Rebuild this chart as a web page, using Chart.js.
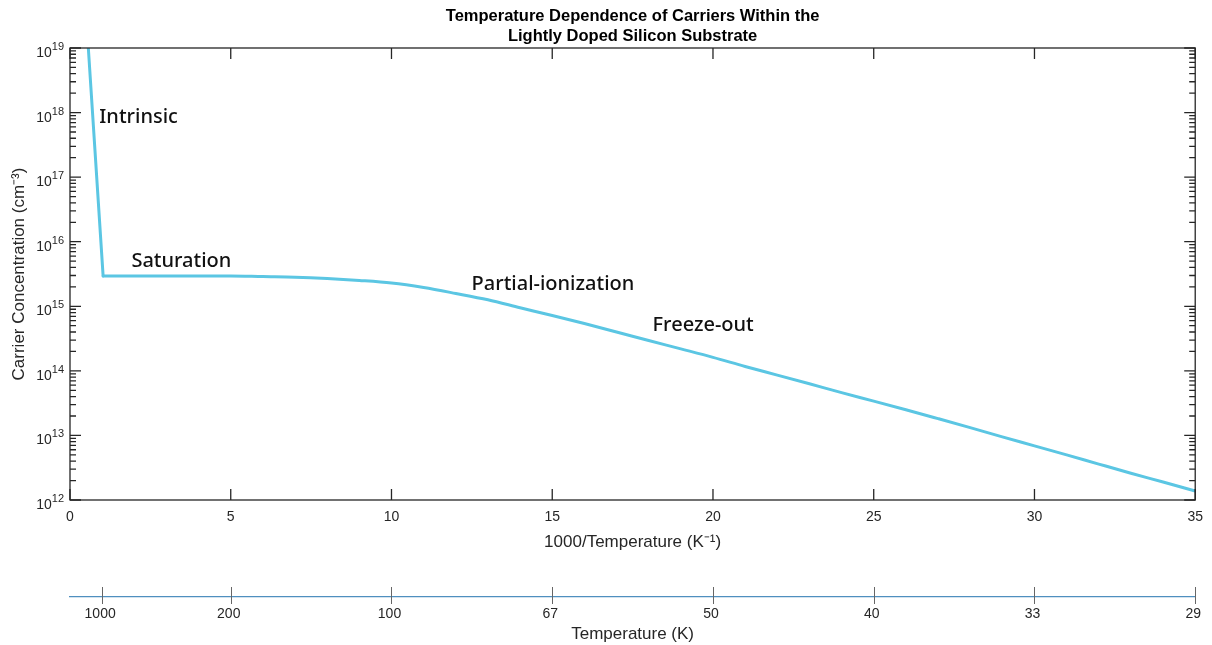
<!DOCTYPE html>
<html>
<head>
<meta charset="utf-8">
<title>Temperature Dependence of Carriers</title>
<script src="https://cdn.jsdelivr.net/npm/chart.js@4.4.1/dist/chart.umd.min.js"></script>
<style>
  html, body { margin: 0; padding: 0; background: #fff; }
  #wrap { width: 1212px; height: 645px; }
</style>
</head>
<body>
<div id="wrap"><canvas id="carriers" width="1212" height="645"></canvas></div>
<script>
'use strict';

// 1000/T in K^-1
var invTemp = [0.57, 1.03, 2, 3, 4, 5, 6, 7, 8, 9, 10, 11, 12, 13, 14, 15, 16, 17, 18,
               19, 20, 21, 22, 23, 24, 25, 26, 27, 28, 29, 30, 31, 32, 33, 34, 35];

// carrier concentration in cm^-3
var carriers = [1e19, 2.95e15, 2.95e15, 2.95e15, 2.95e15, 2.95e15, 2.88e15, 2.82e15, 2.69e15,
                2.51e15, 2.29e15, 1.95e15, 1.58e15, 1.26e15, 9.5e14, 7.2e14, 5.4e14, 4.0e14,
                2.95e14, 2.19e14, 1.62e14, 1.17e14, 8.6e13, 6.3e13, 4.6e13, 3.4e13, 2.5e13,
                1.82e13, 1.32e13, 9.5e12, 6.9e12, 5.0e12, 3.6e12, 2.6e12, 1.9e12, 1.38e12];

// the first two points are the steep intrinsic branch, the knee is shared
var kneeIndex = 1;

// names of the regions, anchored at the left end of their baseline
var regionNames = ['Intrinsic', 'Saturation', 'Partial-ionization', 'Freeze-out'];
var regionX = [0.91, 1.91, 12.49, 18.12];
var regionY = [6.8e17, 4.0e15, 1.79e15, 4.2e14];

// powers of ten shown on the concentration axis
var decades = [12, 13, 14, 15, 16, 17, 18, 19];

// the temperature axis under the plot
var tempTickPos = [1, 5, 10, 15, 20, 25, 30, 35];
var tempTickLabels = ['1000', '200', '100', '67', '50', '40', '33', '29'];

var axisColor = '#262626';
var lineColor = '#5bc6e3';
var sansFamily = '"Liberation Sans", Arial, Helvetica, sans-serif';
var tickFont = { family: sansFamily, size: 14 };
var axisTitleFont = { family: sansFamily, size: 17 };

/**
 * Box around the plot, inward tick marks, the 10^n labels,
 * the temperature axis ticks and the region names.
 */
var framePlugin = {
    id: 'carrierFrame',
    afterDatasetsDraw: function(chart) {
        var ctx = chart.ctx;
        var area = chart.chartArea;
        var xs = chart.scales.x;
        var ys = chart.scales.y;
        var ts = chart.scales.x2;

        ctx.save();
        ctx.strokeStyle = axisColor;
        ctx.lineWidth = 1.3;
        ctx.strokeRect(area.left, area.top, area.right - area.left, area.bottom - area.top);

        ctx.beginPath();
        xs.ticks.forEach(function(t) {
            var px = xs.getPixelForValue(t.value);
            ctx.moveTo(px, area.bottom);
            ctx.lineTo(px, area.bottom - 11);
            ctx.moveTo(px, area.top);
            ctx.lineTo(px, area.top + 11);
        });
        decades.forEach(function(d) {
            for (var m = 1; m <= 9; m++) {
                if (d === decades[decades.length - 1] && m > 1) break;
                var py = ys.getPixelForValue(m * Math.pow(10, d));
                var len = m === 1 ? 11 : 6;
                ctx.moveTo(area.left, py);
                ctx.lineTo(area.left + len, py);
                ctx.moveTo(area.right, py);
                ctx.lineTo(area.right - len, py);
            }
        });
        ctx.stroke();

        // tick marks of the temperature axis
        ctx.beginPath();
        ctx.strokeStyle = '#666666';
        ctx.lineWidth = 1;
        tempTickPos.forEach(function(v) {
            var px = Math.round(ts.getPixelForValue(v)) + 0.5;
            ctx.moveTo(px, ts.top - 10);
            ctx.lineTo(px, ts.top + 7);
        });
        ctx.stroke();

        // 10^n labels
        ctx.fillStyle = axisColor;
        ctx.textAlign = 'right';
        ctx.textBaseline = 'alphabetic';
        decades.forEach(function(d) {
            var py = ys.getPixelForValue(Math.pow(10, d));
            ctx.font = '11px ' + sansFamily;
            var expWidth = ctx.measureText(String(d)).width;
            ctx.fillText(String(d), area.left - 6, py + 2);
            ctx.font = '14px ' + sansFamily;
            ctx.fillText('10', area.left - 6 - expWidth, py + 9);
        });

        // region names
        ctx.fillStyle = '#111111';
        ctx.textAlign = 'left';
        ctx.font = '500 20px "Noto Sans", sans-serif';
        regionNames.forEach(function(name, i) {
            ctx.fillText(name, xs.getPixelForValue(regionX[i]), ys.getPixelForValue(regionY[i]));
        });
        ctx.restore();
    }
};

var points = invTemp.map(function(x, i) {
    return { x: x, y: carriers[i] };
});

var curveStyle = {
    borderColor: lineColor,
    borderWidth: 3,
    pointRadius: 0,
    fill: false,
    borderCapStyle: 'round',
    borderJoinStyle: 'round'
};

new Chart(document.getElementById('carriers'), {
    type: 'line',
    data: {
        datasets: [
            // intrinsic branch: straight drop down to the knee
            Object.assign({ data: points.slice(0, kneeIndex + 1), tension: 0 }, curveStyle),
            // saturation, partial ionization and freeze-out
            Object.assign({ data: points.slice(kneeIndex), cubicInterpolationMode: 'monotone' }, curveStyle)
        ]
    },
    options: {
        responsive: false,
        animation: false,
        layout: { padding: { left: 0, right: 14, top: 0, bottom: 0 } },
        plugins: {
            legend: { display: false },
            tooltip: { enabled: false },
            title: {
                display: true,
                fullSize: false,
                text: ['Temperature Dependence of Carriers Within the', 'Lightly Doped Silicon Substrate'],
                color: '#000000',
                font: { family: sansFamily, size: 16.5, weight: 'bold', lineHeight: 1.2 },
                padding: { top: 7, bottom: 1.4 }
            }
        },
        scales: {
            x: {
                type: 'linear',
                position: 'bottom',
                weight: 0,
                min: 0,
                max: 35,
                grid: { display: false, drawTicks: false },
                border: { display: false },
                ticks: { stepSize: 5, color: axisColor, font: tickFont, padding: 9, maxRotation: 0 },
                title: {
                    display: true,
                    text: '1000/Temperature (K\u207B\u00B9)',
                    color: axisColor,
                    font: axisTitleFont,
                    padding: { top: 0, bottom: 44 }
                },
                afterFit: function(scale) { scale.height = 97; }
            },
            x2: {
                type: 'linear',
                position: 'bottom',
                weight: 1,
                min: 0,
                max: 35,
                grid: { display: false, drawTicks: false },
                border: { display: true, color: '#4f8fbf', width: 1.2 },
                ticks: {
                    color: axisColor,
                    font: tickFont,
                    padding: 9,
                    labelOffset: -2,
                    autoSkip: false,
                    maxRotation: 0,
                    callback: function(value, index) { return tempTickLabels[index]; }
                },
                afterBuildTicks: function(scale) {
                    scale.ticks = tempTickPos.map(function(v) { return { value: v }; });
                },
                title: {
                    display: true,
                    text: 'Temperature (K)',
                    color: axisColor,
                    font: axisTitleFont,
                    padding: { top: 0, bottom: 0 }
                },
                afterFit: function(scale) { scale.height = 48; }
            },
            y: {
                type: 'logarithmic',
                min: 1e12,
                max: 1e19,
                grid: { display: false, drawTicks: false },
                border: { display: false },
                ticks: { display: false },
                title: {
                    display: true,
                    text: 'Carrier Concentration (cm\u207B\u00B3)',
                    color: axisColor,
                    font: axisTitleFont,
                    padding: { top: 9, bottom: 0 }
                },
                afterFit: function(scale) { scale.width = 70; }
            }
        }
    },
    plugins: [framePlugin]
});
</script>
</body>
</html>
